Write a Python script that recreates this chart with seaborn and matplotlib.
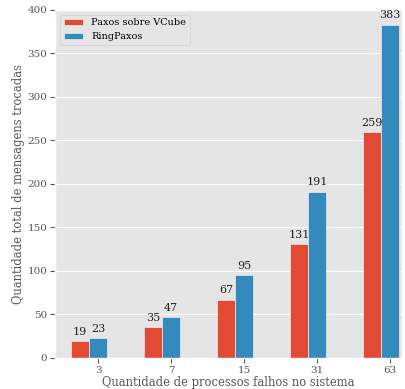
import pandas as pd
import matplotlib
matplotlib.use('Agg')
import matplotlib.pyplot as plt
import seaborn as sns

processos = ['3', '7', '15', '31', '63']
vcube = [19, 35, 67, 131, 259]
ringpaxos = [23, 47, 95, 191, 383]
series = ['Paxos sobre VCube', 'RingPaxos']

plt.style.use('ggplot')
plt.rcParams['font.family'] = ['DejaVu Serif']

df = pd.DataFrame({
    'processos': processos * 2,
    'mensagens': vcube + ringpaxos,
    'serie': [series[0]] * len(processos) + [series[1]] * len(processos),
})

fig = plt.figure(figsize=(4.05, 3.89), dpi=100)
ax = fig.add_axes([0.136, 0.080, 0.857, 0.895])
sns.barplot(data=df, x='processos', y='mensagens', hue='serie', order=processos,
            hue_order=series, palette=['#E24A33', '#348ABD'], width=0.5,
            saturation=1, edgecolor='#EEEEEE', linewidth=0.5, ax=ax)

for c in ax.containers:
    ax.bar_label(c, padding=3, fontsize=8, color='#222222')

# ticks sit under the second bar of each group, as in the original
ax.set_xticks([i + 0.125 for i in range(len(processos))])
ax.set_xticklabels(processos)
ax.set_xlim(-0.465, 4.29)
ax.set_ylim(0, 400)
ax.set_xlabel('Quantidade de processos falhos no sistema', fontsize=8.3, color='#555555', labelpad=1)
ax.set_ylabel('Quantidade total de mensagens trocadas', fontsize=8.3, color='#555555', labelpad=2)
ax.tick_params(labelsize=7.5, pad=2)
ax.legend(loc='upper left', fontsize=7, title=None)

fig.savefig('out.png', dpi=100)
